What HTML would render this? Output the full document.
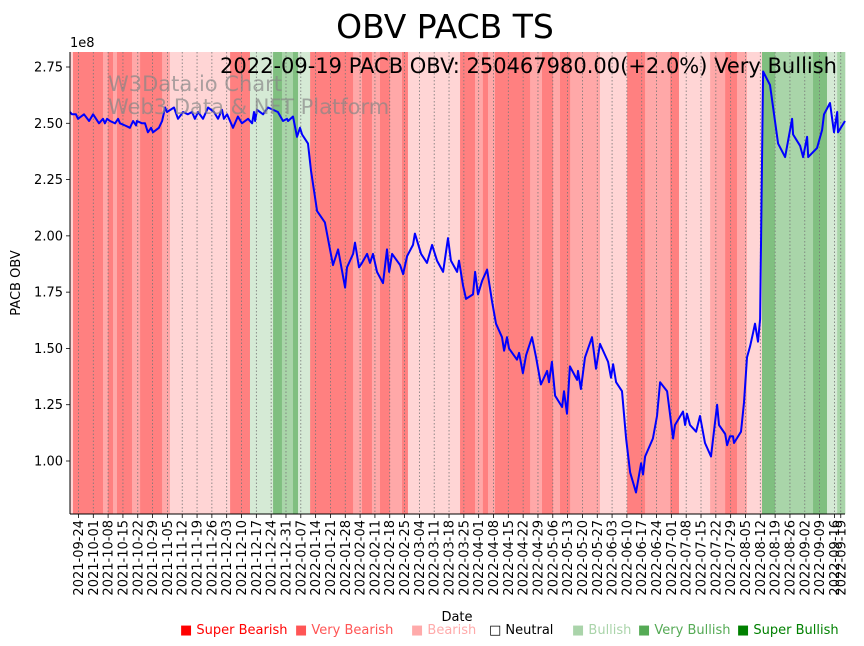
<!DOCTYPE html>
<html><head><meta charset="utf-8"><style>
body{margin:0;background:#fff;}
svg{display:block;font-family:"DejaVu Sans","Liberation Sans",sans-serif;}
</style></head><body>
<svg id="chart" width="864" height="646" viewBox="0 0 864 646" xmlns="http://www.w3.org/2000/svg">
<g id="bands"></g>
<g id="grid"></g>
<g id="line"></g>
<g id="axes"></g>
<text x="445" y="38" font-size="33" text-anchor="middle">OBV PACB TS</text>
<text x="70" y="47" font-size="13">1e8</text>
<text x="108" y="91" font-size="21" fill="#888" fill-opacity="0.7">W3Data.io Chart</text>
<text x="108" y="114" font-size="21" fill="#888" fill-opacity="0.7">Web3 Data &amp; NFT Platform</text>
<text x="837" y="73" font-size="21" text-anchor="end">2022-09-19 PACB OBV: 250467980.00(+2.0%) Very Bullish</text>
<text transform="translate(20,283) rotate(-90)" font-size="13" text-anchor="middle">PACB OBV</text>
<text x="457" y="621" font-size="13" text-anchor="middle">Date</text>
<g font-size="13">
<text x="180" y="634" fill="#ff0000">■ Super Bearish</text>
<text x="295" y="634" fill="#ff5555">■ Very Bearish</text>
<text x="411" y="634" fill="#ffaaaa">■ Bearish</text>
<text x="489" y="634" fill="#000">□ Neutral</text>
<text x="572" y="634" fill="#aad4aa">■ Bullish</text>
<text x="638" y="634" fill="#55aa55">■ Very Bullish</text>
<text x="737" y="634" fill="#008000">■ Super Bullish</text>
</g>
</svg>
<script>
// days since 2021-09-20
const obvDays=[0,0.9,2.8,3.8,6.6,9.0,10.9,13.7,15.6,16.5,17.5,18.9,21.3,22.7,23.6,26,28.3,29.8,31.2,31.6,34,35.4,36.8,38.3,39.2,42,43.5,44.9,45.8,49.1,51,53.4,55.7,57.6,59,60.5,62.8,65.2,68,69.9,71.8,72.7,74.2,77,79.3,81.2,84.1,86,86.9,87.4,88.3,91.2,93.5,98.2,100.6,102.5,103,105.3,107.2,108.6,109.6,112.4,113.8,116.7,120.4,122.8,124.2,126.6,129.9,130.8,133.7,134.6,136.5,137.9,140.3,141.7,143.1,145,147.8,149.7,150.7,152.1,155.9,157.3,159.2,162,162.9,165.8,168.6,171,173.3,176.2,178.5,179.9,182.8,183.7,185.6,187,190.3,191.3,192.7,194.6,197,199.3,201.2,204,205,206.4,207.3,211.1,212.1,213.9,215.4,218.2,220.1,222.4,225.3,226.2,227.6,229.1,232.4,233.3,234.7,236.1,239.5,239.9,241.3,243.2,246.5,248.4,250.3,254.1,255.5,256.5,257.9,260.7,262.6,264.5,267.3,269.7,270.6,271.6,275.3,277.2,278.7,282,284.8,285.7,289.5,290.5,291.4,292.8,295.7,297.5,299.9,302.7,305.6,306.5,309.4,310.3,311.7,313.1,313.6,316.9,318.3,319.7,321.2,322.6,323.5,324.9,325.9,327.3,330.6,334.4,337.7,341,341.5,344.8,346.2,348.1,348.6,352.8,355.2,356.1,358.9,360.8,362.3,362.7,366];
const obvValues=[2.55,2.54,2.54,2.52,2.54,2.51,2.54,2.50,2.52,2.50,2.52,2.51,2.50,2.52,2.50,2.49,2.48,2.51,2.49,2.51,2.50,2.50,2.46,2.48,2.46,2.48,2.51,2.57,2.55,2.57,2.52,2.55,2.54,2.55,2.52,2.55,2.52,2.57,2.55,2.52,2.56,2.52,2.54,2.48,2.53,2.50,2.52,2.50,2.55,2.51,2.56,2.54,2.57,2.55,2.51,2.52,2.51,2.53,2.44,2.48,2.45,2.41,2.29,2.11,2.06,1.94,1.87,1.94,1.77,1.86,1.92,1.97,1.86,1.88,1.92,1.88,1.92,1.84,1.79,1.94,1.84,1.92,1.87,1.83,1.91,1.96,2.01,1.92,1.88,1.96,1.89,1.84,1.99,1.89,1.84,1.89,1.78,1.72,1.74,1.84,1.74,1.80,1.85,1.71,1.61,1.55,1.49,1.55,1.50,1.45,1.48,1.39,1.47,1.55,1.46,1.34,1.40,1.35,1.44,1.29,1.24,1.31,1.21,1.42,1.36,1.40,1.32,1.46,1.55,1.41,1.52,1.44,1.37,1.43,1.35,1.31,1.10,0.95,0.86,0.99,0.94,1.02,1.10,1.20,1.35,1.31,1.10,1.16,1.22,1.16,1.21,1.16,1.13,1.20,1.08,1.02,1.25,1.16,1.12,1.07,1.11,1.11,1.08,1.13,1.26,1.46,1.51,1.57,1.61,1.53,1.63,2.73,2.67,2.41,2.35,2.52,2.45,2.40,2.35,2.44,2.35,2.39,2.47,2.54,2.59,2.46,2.55,2.46,2.51];
const bandStarts=[0,1.4,15.6,17.9,20.3,22.2,29.3,33.1,43.5,47.2,75.6,85,95.9,100.1,105.3,107.7,113.4,133.7,137.9,142.6,146.4,151.1,156.8,159.6,184.2,191.3,195,197.4,200.7,217.3,222.9,228.1,231.4,236.2,250.3,263.1,271.6,283.4,287.6,302.3,309.4,315,319.7,326.8,333,350.9,357.5,362.3];
const bandLevels=[-1,-3,-2,-3,-2,-3,-2,-3,-2,-1,-3,1,3,2,3,1,-3,-2,-3,-2,-3,-2,-3,-1,-3,-2,-3,-2,-3,-2,-3,-2,-3,-2,-1,-3,-2,-3,-1,-2,-3,-2,-1,3,2,3,1,2];
const yTicks=[1.00,1.25,1.50,1.75,2.00,2.25,2.50,2.75];
const dayMax=366;

const NS="http://www.w3.org/2000/svg";
const L=70,R=845,T=52,B=514;
function xs(d){return L+(d/dayMax)*(R-L);}
function ys(v){return 461-(v-1)*225.14;}
const colors={"-3":"#ff8080","-2":"#ffa8a8","-1":"#ffd5d5","1":"#d5ead5","2":"#a9d5a9","3":"#80bf80"};
function mk(tag,attrs,parent){const e=document.createElementNS(NS,tag);for(const k in attrs)e.setAttribute(k,attrs[k]);parent.appendChild(e);return e;}

const gb=document.getElementById('bands');
for(let i=0;i<bandStarts.length;i++){
  const s=bandStarts[i],e=i+1<bandStarts.length?bandStarts[i+1]:dayMax;
  const r=mk('rect',{x:xs(s),y:T,width:xs(e)-xs(s)+0.3,height:B-T,fill:colors[bandLevels[i]]},gb);
  
  
}
const gg=document.getElementById('grid'),ga=document.getElementById('axes');
const start=new Date(Date.UTC(2021,8,20));
const tickDays=[];for(let d=4;d<=361;d+=7)tickDays.push(d);tickDays.push(364);
function fmt(d){const t=new Date(start.getTime()+d*86400000);return t.toISOString().slice(0,10);}
tickDays.forEach(d=>{
  const x=xs(d);
  const gl=mk('line',{x1:x,x2:x,y1:T,y2:B,stroke:'#777','stroke-width':0.8,'stroke-dasharray':'1.5,2'},gg);
  
  
  mk('line',{x1:x,x2:x,y1:B,y2:B+4,stroke:'#000','stroke-width':0.8},ga);
  const t=mk('text',{transform:`translate(${x+4.5},${B+6}) rotate(-90)`,'font-size':13,'text-anchor':'end'},ga);
  t.textContent=fmt(d);
  
  
});
yTicks.forEach(v=>{
  const y=ys(v);
  mk('line',{x1:L-4,x2:L,y1:y,y2:y,stroke:'#000','stroke-width':0.8},ga);
  const t=mk('text',{x:L-7,y:y+4.5,'font-size':13,'text-anchor':'end'},ga);
  t.textContent=v.toFixed(2);
  
  
});
const sl=mk('line',{x1:L,x2:L,y1:T,y2:B,stroke:'#000','stroke-width':1},ga);


const sb=mk('line',{x1:L,x2:R,y1:B,y2:B,stroke:'#000','stroke-width':1},ga);



const pts=obvDays.map((d,i)=>xs(d).toFixed(1)+','+ys(obvValues[i]).toFixed(1)).join(' ');
const pl=mk('polyline',{points:pts,fill:'none',stroke:'#0000ff','stroke-width':2,'stroke-linejoin':'round'},document.getElementById('line'));


</script>
</body></html>
